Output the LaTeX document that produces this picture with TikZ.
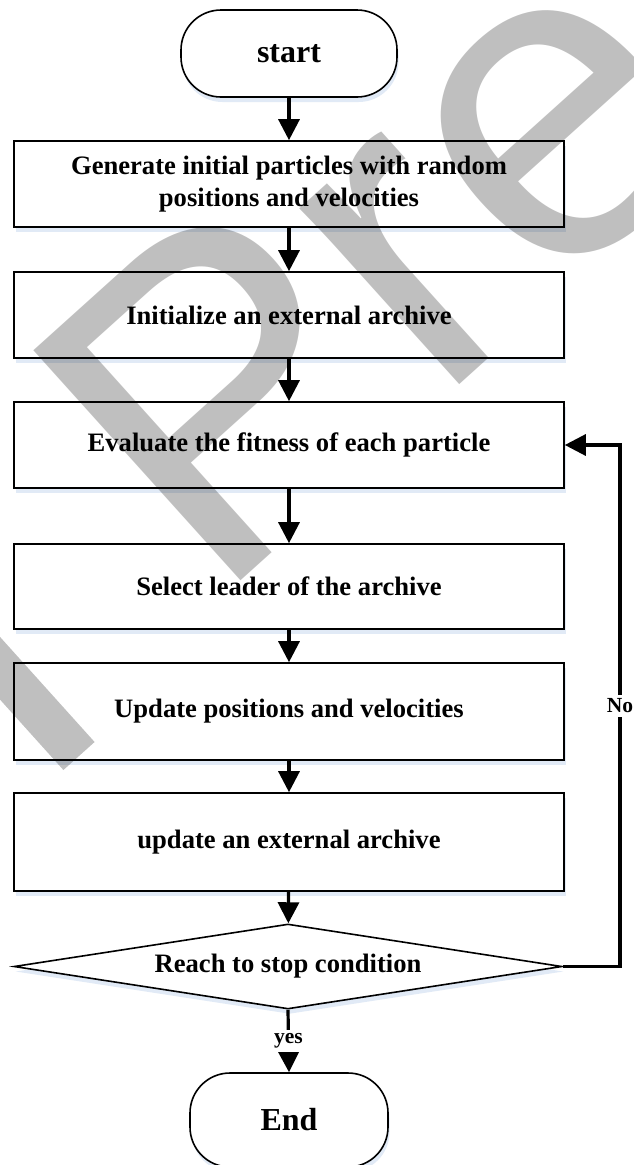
\documentclass[tikz,border=0pt]{standalone}
\usepackage{fontspec}
\setmainfont{Liberation Serif}
\newfontfamily\wmfont{Liberation Sans}
\usetikzlibrary{arrows.meta,shapes.geometric,shadows}
\begin{document}
\begin{tikzpicture}[x=1pt,y=-1pt,
  shadowed/.style={drop shadow={shadow xshift=1.5pt, shadow yshift=-5pt, fill={rgb,255:red,205;green,220;blue,240}, opacity=0.6}},
  box/.style={draw=black, line width=1.6pt, fill=white, minimum width=550pt, inner sep=0pt, align=center,
    font=\fontsize{26.6}{32}\selectfont\bfseries, shadowed},
  term/.style={draw=black, line width=1.6pt, fill=white, rounded corners=40pt, inner sep=0pt,
    font=\fontsize{32}{36}\selectfont\bfseries, shadowed},
  dec/.style={diamond, draw=black, line width=1.6pt, fill=white, aspect=6.45, minimum width=548pt,
    minimum height=85pt, inner sep=0pt, font=\fontsize{26.6}{32}\selectfont\bfseries, shadowed},
  conn/.style={line width=3.2pt, -{Triangle[length=21pt,width=21pt]}},
  lab/.style={fill=white, inner xsep=1pt, inner ysep=4pt, font=\fontsize{21.5}{24}\selectfont\bfseries},
  wm/.style={fill=black, opacity=0.25}
]
\useasboundingbox (0,0) rectangle (633,1165);
\clip (0,0) rectangle (633,1165);
\fill[white] (0,0) rectangle (633,1165);

\node[term, minimum width=216pt, minimum height=87pt] (start) at (289,53.5) {start};
\node[box, minimum height=86pt] (b1) at (289,184) {Generate initial particles with random\\positions and velocities};
\node[box, minimum height=86pt] (b2) at (289,315) {Initialize an external archive};
\node[box, minimum height=86pt] (b3) at (289,445) {Evaluate the fitness of each particle};
\node[box, minimum height=85pt] (b4) at (289,586.5) {Select leader of the archive};
\node[box, minimum height=97pt] (b5) at (289,711.5) {Update positions and velocities};
\node[box, minimum height=98pt] (b6) at (289,842) {update an external archive};
\node[dec] (d) at (288,966.5) {Reach to stop condition};
\node[term, minimum width=198pt, minimum height=94pt] (end) at (289,1120) {End};
\coordinate (fb) at (620,966.5);

\draw[conn] (start) -- (b1);
\draw[conn] (b1) -- (b2);
\draw[conn] (b2) -- (b3);
\draw[conn] (b3) -- (b4);
\draw[conn] (b4) -- (b5);
\draw[conn] (b5) -- (b6);
\draw[conn] (b6) -- (d);
\draw[conn] (d.south) -- node[lab]{yes} (end.north);
\draw[conn] (d.east) -- (fb) |- node[lab, pos=0.25]{No} (b3.east);

% watermark
\node[rotate=42, anchor=base west, inner sep=0pt, text=black, text opacity=0.25,
  font=\fontsize{450}{450}\selectfont\wmfont] (wmtext) at (213,606) {Pre};
\fill[wm] (94.6,742) -- (63.4,770) -- (-170.6,510) -- (-139.4,482) -- cycle;
\end{tikzpicture}
\end{document}
